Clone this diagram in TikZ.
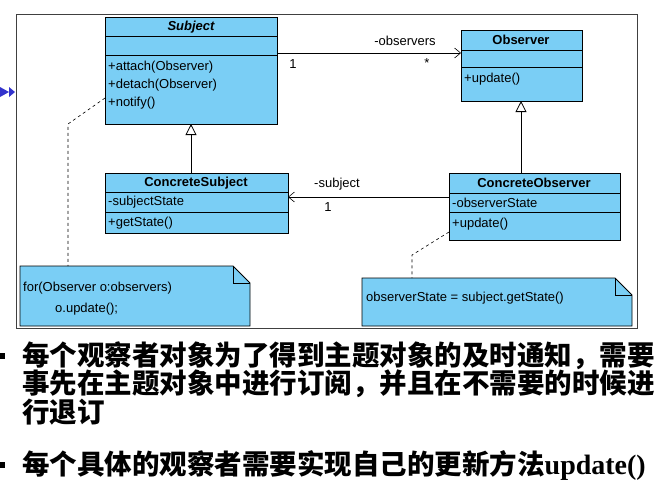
\documentclass[tikz,border=0pt]{standalone}
\usepackage{fontspec}
\setmainfont{Liberation Sans}
\newfontfamily\cjk{Noto Sans CJK SC}
\newfontfamily\tms{Liberation Serif}
\usetikzlibrary{arrows.meta}
\definecolor{cls}{RGB}{122,206,245}
\begin{document}
\begin{tikzpicture}[x=1pt,y=-1pt,
  box/.style={draw=black,fill=cls,line width=0.8pt},
  sep/.style={line width=0.8pt},
  t/.style={font=\fontsize{13}{15}\selectfont,inner sep=0pt,anchor=west},
  tb/.style={font=\fontsize{13}{15}\selectfont\bfseries,inner sep=0pt},
  gen/.style={-{Triangle[open,fill=white,length=11pt,width=11pt]},line width=0.8pt},
  assoc/.style={-{Straight Barb[length=6pt,width=10pt]},line width=0.6pt},
  notelink/.style={dashed,line width=0.6pt},
  cn/.style={font=\cjk\bfseries\fontsize{27.5}{30}\selectfont,inner sep=0pt,anchor=west}]
\useasboundingbox (0,0) rectangle (669,491);
\draw[line width=0.8pt,draw=black!75] (16,14) rectangle (637,328);
\fill[blue!60!gray] (0,87) -- (9,92) -- (0,97) -- cycle;
\fill[blue!60!gray] (9,87) -- (15,92) -- (9,97) -- cycle;
% Subject
\draw[box] (105,17) rectangle (277,124);
\draw[sep] (105,36) -- (277,36) (105,55) -- (277,55);
\node[tb,font=\fontsize{13}{15}\selectfont\bfseries\itshape] (subj) at (191,27) {Subject};
\node[t] (sa) at (108,67) {+attach(Observer)};
\node[t] (sd) at (108,85) {+detach(Observer)};
\node[t] (sn) at (108,103) {+notify()};
\coordinate (subjB) at (191,124);
\coordinate (subjR) at (277,53);
\coordinate (subjL) at (105,98);
% Observer
\draw[box] (461,30) rectangle (582,101);
\draw[sep] (461,50) -- (582,50) (461,67) -- (582,67);
\node[tb] (obs) at (521,40) {Observer};
\node[t] (ou) at (464,79) {+update()};
\coordinate (obsB) at (521,101);
\coordinate (obsL) at (461,53);
% ConcreteSubject
\draw[box] (105,173) rectangle (288,233);
\draw[sep] (105,192) -- (288,192) (105,212) -- (288,212);
\node[tb] (cs) at (196,183) {ConcreteSubject};
\node[t] (css) at (108,202) {-subjectState};
\node[t] (csg) at (108,223) {+getState()};
\coordinate (csT) at (191,173);
\coordinate (csR) at (288,197);
% ConcreteObserver
\draw[box] (449,173) rectangle (620,240);
\draw[sep] (449,193) -- (620,193) (449,212) -- (620,212);
\node[tb] (co) at (534,183) {ConcreteObserver};
\node[t] (cos) at (452,203) {-observerState};
\node[t] (cou) at (452,224) {+update()};
\coordinate (coT) at (521,173);
\coordinate (coL) at (449,197);
\coordinate (coLB) at (449,232);
% notes
\draw[box] (20,266) -- (233,266) -- (250,283) -- (250,326) -- (20,326) -- cycle;
\draw[line width=0.8pt] (233,266) -- (233,283) -- (250,283);
\node[t] (n1) at (23,288) {for(Observer o:observers)};
\node[t] (n2) at (55,309) {o.update();};
\coordinate (n1T) at (68,266);
\draw[box] (362,278) -- (615,278) -- (632,295) -- (632,326) -- (362,326) -- cycle;
\draw[line width=0.8pt] (615,278) -- (615,295) -- (632,295);
\node[t] (n3) at (366,298) {observerState = subject.getState()};
\coordinate (n3T) at (412,278);
% connectors
\draw[gen] (csT) -- (subjB);
\draw[gen] (coT) -- (obsB);
\draw[assoc] (subjR) -- (obsL);
\node[t,anchor=center] (lo) at (405,41) {-observers};
\node[t,anchor=center] (l1) at (293,64) {1};
\node[t,anchor=center] (ls) at (427,63) {*};
\draw[assoc] (coL) -- (csR);
\node[t,anchor=center] (lsub) at (337,184) {-subject};
\node[t,anchor=center] (l2) at (328,207) {1};
\draw[notelink] (subjL) -- (68,124) -- (n1T);
\draw[notelink] (coLB) -- (412,255) -- (n3T);
% text
\fill (0,353) rectangle (5,359);
\fill (0,462) rectangle (5,468);
\node[cn] (c1) at (22,356) {每个观察者对象为了得到主题对象的及时通知，需要};
\node[cn] (c2) at (22,384) {事先在主题对象中进行订阅，并且在不需要的时候进};
\node[cn] (c3) at (22,412) {行退订};
\node[cn] (c4) at (22,465) {每个具体的观察者需要实现自己的更新方法{\tms\bfseries\fontsize{28}{30}\selectfont update()}};
\end{tikzpicture}
\end{document}
